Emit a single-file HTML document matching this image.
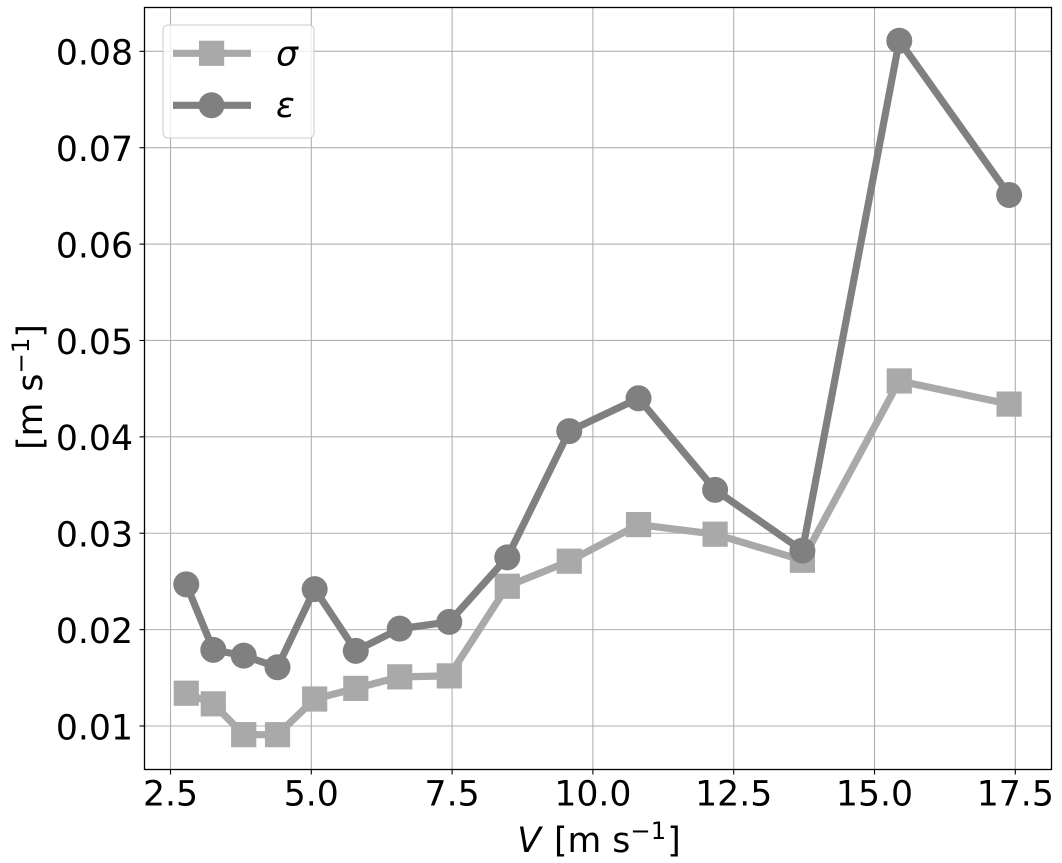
<!DOCTYPE html>
<html>
<head>
<meta charset="utf-8">
<style>
html,body{margin:0;padding:0;background:#fff;width:1062px;height:863px;overflow:hidden}
svg{display:block;font-family:"DejaVu Sans",sans-serif;fill:#000}
</style>
</head>
<body>
<svg id="chart" xmlns="http://www.w3.org/2000/svg" width="1062" height="863" viewBox="0 0 1062 863">
  <rect width="1062" height="863" fill="#fff"/>
  <g id="grid"></g>
  <g id="series"></g>
  <rect x="144.5" y="7.5" width="907" height="762" fill="none" stroke="#000" stroke-width="1.3"/>
  <g id="ticks"></g>
  <text x="599" y="852" text-anchor="middle" font-size="34.67"><tspan font-style="italic">V</tspan><tspan dx="2"> [m s</tspan><tspan dy="-13" font-size="24.3">−1</tspan><tspan dy="13" dx="1">]</tspan></text>
  <text transform="translate(42,387) rotate(-90)" text-anchor="middle" font-size="34.67">[m s<tspan dy="-13" font-size="24.3">−1</tspan><tspan dy="13">]</tspan></text>
  <g>
    <rect x="163" y="25" width="151" height="113" rx="5" fill="#fff" fill-opacity="0.8" stroke="#ccc" stroke-opacity="0.8" stroke-width="1.3"/>
    <g>
      <line x1="173" x2="251" y1="53.3" y2="53.3" stroke="#a9a9a9" stroke-width="7.2"/>
      <rect x="199" y="40.7" width="25.2" height="25.2" fill="#a9a9a9"/>
      <text x="276" y="65.5" font-size="34.67" font-style="italic">σ</text>
    </g>
    <g>
      <line x1="173" x2="251" y1="105.3" y2="105.3" stroke="#808080" stroke-width="7.2"/>
      <circle cx="211.5" cy="105.3" r="13" fill="#808080"/>
      <text x="276" y="117" font-size="34.67" font-style="italic">ε</text>
    </g>
  </g>
</svg>
<script>
const windSpeed = [2.78, 3.26, 3.8, 4.4, 5.06, 5.79, 6.57, 7.45, 8.48, 9.58, 10.81, 12.17, 13.72, 15.44, 17.39];
const sigmaValues = [0.0134, 0.0123, 0.0091, 0.0091, 0.0128, 0.0139, 0.0151, 0.0152, 0.0245, 0.0271, 0.0309, 0.0299, 0.0272, 0.0458, 0.0434];
const epsilonValues = [0.0247, 0.0179, 0.0173, 0.0161, 0.0242, 0.0178, 0.0201, 0.0208, 0.0275, 0.0406, 0.044, 0.0345, 0.0282, 0.0811, 0.0651];
const xTickValues = [2.5, 5, 7.5, 10, 12.5, 15, 17.5];
const yTickValues = [0.01, 0.02, 0.03, 0.04, 0.05, 0.06, 0.07, 0.08];

const NS = 'http://www.w3.org/2000/svg';
function xScale(v) { return 170.5 + (v - 2.5) * 56.32; }
function yScale(v) { return 726 - (v - 0.01) * 9638; }
function make(tag, attrs, parent) {
  const el = document.createElementNS(NS, tag);
  for (const k in attrs) el.setAttribute(k, attrs[k]);
  parent.appendChild(el);
  return el;
}
const gridG = document.getElementById('grid');
const ticksG = document.getElementById('ticks');
const seriesG = document.getElementById('series');

xTickValues.forEach(function (t) {
  const x = xScale(t);
  const g = make('line', {x1: x, x2: x, y1: 7.5, y2: 769.5, stroke: '#b0b0b0', 'stroke-width': 1.1}, gridG);
  
  
  const m = make('line', {x1: x, x2: x, y1: 769.5, y2: 774.5, stroke: '#000', 'stroke-width': 1.1}, ticksG);
  
  
  const l = make('text', {x: x, y: 805.5, 'text-anchor': 'middle', 'font-size': 34.67}, ticksG);
  
  
  l.textContent = t.toFixed(1);
});
yTickValues.forEach(function (t) {
  const y = yScale(t);
  const g = make('line', {x1: 144.5, x2: 1051.5, y1: y, y2: y, stroke: '#b0b0b0', 'stroke-width': 1.1}, gridG);
  
  
  const m = make('line', {x1: 139.5, x2: 144.5, y1: y, y2: y, stroke: '#000', 'stroke-width': 1.1}, ticksG);
  
  
  const l = make('text', {x: 133, y: y + 13.3, 'text-anchor': 'end', 'font-size': 34.67}, ticksG);
  
  
  l.textContent = t.toFixed(2);
});

function linePoints(values) {
  return values.map(function (v, i) { return xScale(windSpeed[i]) + ',' + yScale(v); }).join(' ');
}
const sigmaLine = make('polyline', {points: linePoints(sigmaValues), fill: 'none', stroke: '#a9a9a9', 'stroke-width': 7.2, 'stroke-linejoin': 'round'}, seriesG);


sigmaValues.forEach(function (v, i) {
  const s = make('rect', {x: xScale(windSpeed[i]) - 12.6, y: yScale(v) - 12.6, width: 25.2, height: 25.2, fill: '#a9a9a9'}, seriesG);
  
  
});
const epsilonLine = make('polyline', {points: linePoints(epsilonValues), fill: 'none', stroke: '#808080', 'stroke-width': 7.2, 'stroke-linejoin': 'round'}, seriesG);


epsilonValues.forEach(function (v, i) {
  const c = make('circle', {cx: xScale(windSpeed[i]), cy: yScale(v), r: 13, fill: '#808080'}, seriesG);
  
  
});
</script>
</body>
</html>
